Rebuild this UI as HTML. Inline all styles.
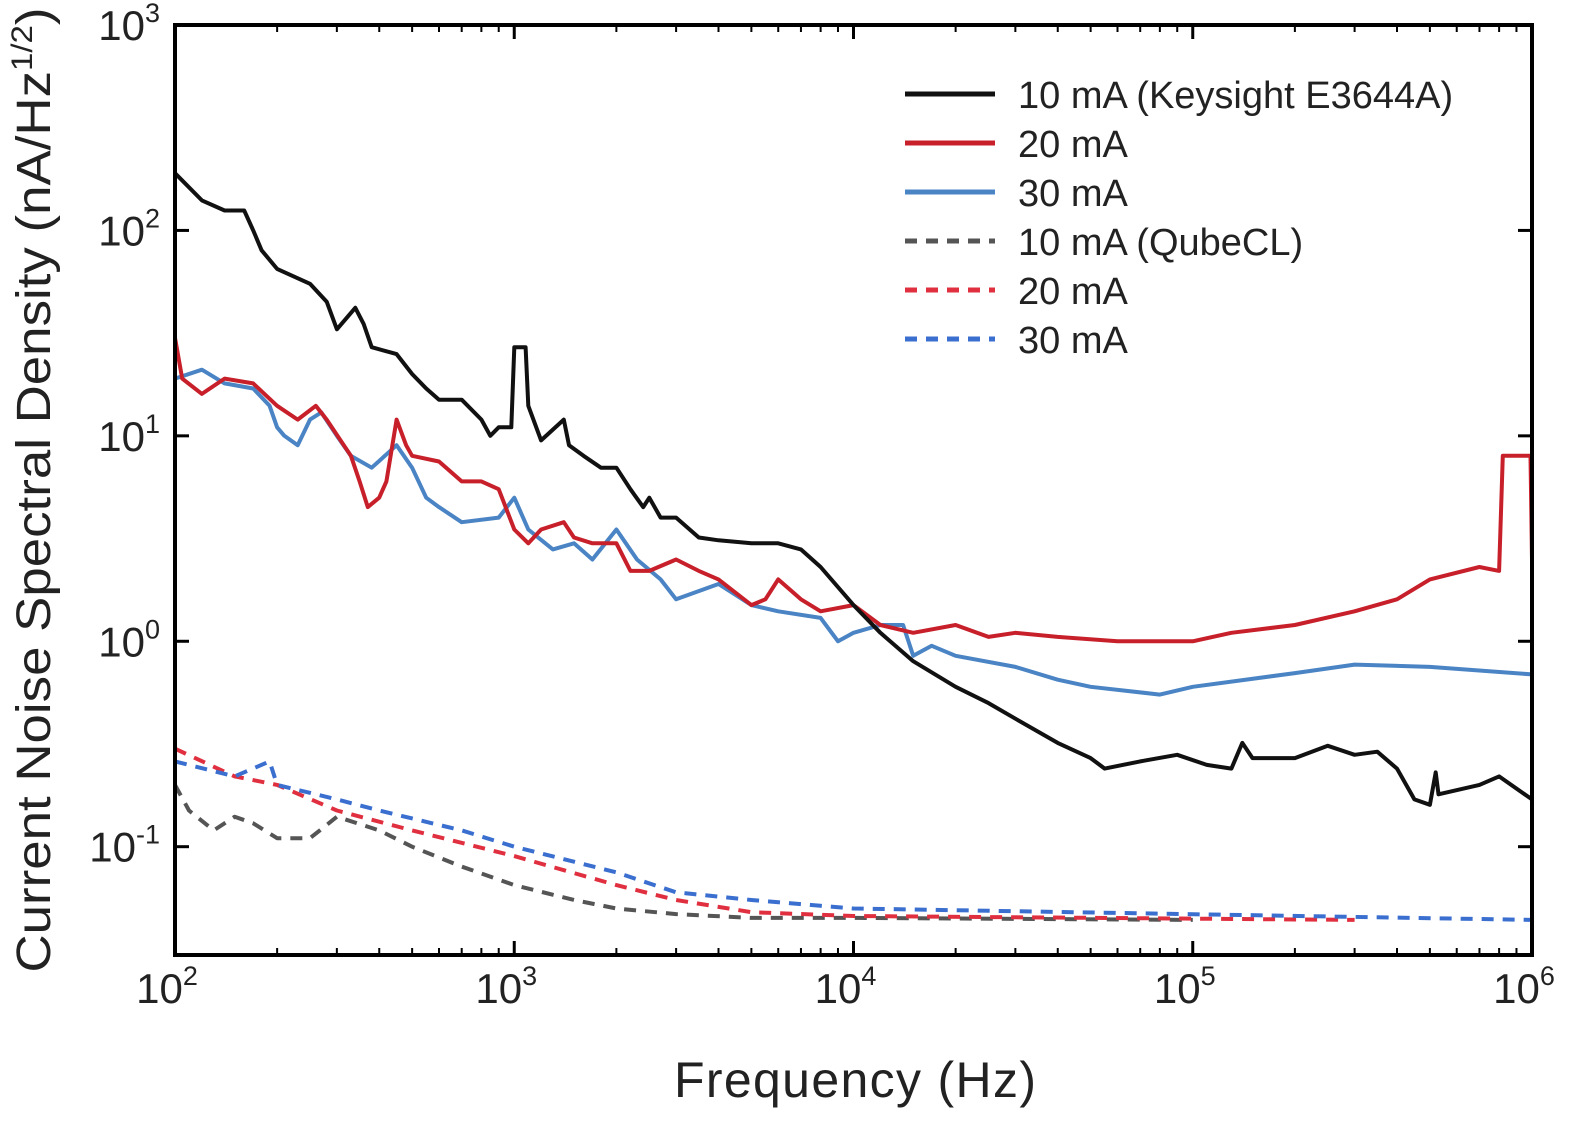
<!DOCTYPE html>
<html><head><meta charset="utf-8"><style>
html,body{margin:0;padding:0;background:#fff;}
svg text{font-family:"Liberation Sans",sans-serif;fill:#222;}
</style></head><body>
<svg id="chart" width="1575" height="1117" viewBox="0 0 1575 1117">
<g id="ticks"></g>
<g id="series"></g>
<rect x="175" y="25" width="1357" height="930" fill="none" stroke="#000" stroke-width="4"/>
<g id="labels"></g>
<text x="855" y="1097" font-size="50" text-anchor="middle" textLength="362">Frequency (Hz)</text>
<text transform="translate(50,490) rotate(-90)" font-size="48" text-anchor="middle" textLength="965" lengthAdjust="spacingAndGlyphs">Current Noise Spectral Density (nA/Hz<tspan font-size="30" dy="-18">1/2</tspan><tspan dy="18">)</tspan></text>
<g id="legend"></g>
</svg>
<script>
const blackF=[100,120,140,160,170,180,200,250,280,300,340,360,380,450,500,550,600,700,800,850,900,980,1000,1080,1100,1200,1400,1450,1600,1800,2000,2200,2400,2500,2700,3000,3500,4000,5000,6000,7000,8000,10000,12000,15000,20000,25000,30000,40000,50000,55000,70000,90000,110000,130000,140000,150000,200000,250000,300000,350000,400000,450000,500000,520000,530000,700000,800000,1000000];
const blackV=[190,140,125,125,100,80,65,55,45,33,42,35,27,25,20,17,15,15,12,10,11,11,27,27,14,9.5,12,9,8,7,7,5.5,4.5,5,4,4,3.2,3.1,3.0,3.0,2.8,2.3,1.5,1.1,0.8,0.6,0.5,0.42,0.32,0.27,0.24,0.26,0.28,0.25,0.24,0.32,0.27,0.27,0.31,0.28,0.29,0.24,0.17,0.16,0.23,0.18,0.2,0.22,0.17];
const redF=[100,105,120,140,170,200,230,260,280,330,350,370,400,420,450,480,500,600,700,800,900,1000,1100,1200,1400,1500,1700,2000,2200,2500,3000,3500,4000,5000,5500,6000,7000,8000,10000,12000,15000,20000,25000,30000,40000,60000,100000,130000,200000,300000,400000,500000,700000,800000,820000,990000,1000000];
const redV=[30,19,16,19,18,14,12,14,12,8,6,4.5,5,6,12,9,8,7.5,6,6,5.5,3.5,3,3.5,3.8,3.2,3,3.0,2.2,2.2,2.5,2.2,2.0,1.5,1.6,2.0,1.6,1.4,1.5,1.2,1.1,1.2,1.05,1.1,1.05,1.0,1.0,1.1,1.2,1.4,1.6,2.0,2.3,2.2,8,8,2.5];
const blueF=[100,120,140,170,190,200,210,230,250,270,300,330,380,450,500,550,600,700,900,1000,1100,1300,1500,1700,2000,2300,2700,3000,4000,5000,6000,8000,9000,10000,12000,14000,15000,17000,20000,30000,40000,50000,80000,100000,200000,300000,500000,1000000];
const blueV=[19,21,18,17,14,11,10,9,12,13,10,8,7,9,7,5,4.5,3.8,4,5,3.5,2.8,3,2.5,3.5,2.5,2.0,1.6,1.9,1.5,1.4,1.3,1.0,1.1,1.2,1.2,0.85,0.95,0.85,0.75,0.65,0.6,0.55,0.6,0.7,0.77,0.75,0.69];
const greyDF=[100,110,130,150,170,200,250,300,400,500,700,1000,1500,2000,3000,5000,10000,100000];
const greyDV=[0.2,0.15,0.12,0.14,0.13,0.11,0.11,0.14,0.12,0.1,0.08,0.065,0.055,0.05,0.047,0.045,0.045,0.044];
const redDF=[100,150,200,300,500,1000,2000,3000,5000,10000,300000];
const redDV=[0.3,0.22,0.2,0.15,0.12,0.09,0.065,0.055,0.048,0.046,0.044];
const blueDF=[100,150,190,200,300,400,700,1000,2000,3000,5000,10000,1000000];
const blueDV=[0.26,0.22,0.26,0.2,0.17,0.15,0.12,0.1,0.075,0.06,0.055,0.05,0.044];
const xTickExp=[2,3,4,5,6];
const yTickExp=[-1,0,1,2,3];
const legendLabels=["10 mA (Keysight E3644A)","20 mA","30 mA","10 mA (QubeCL)","20 mA","30 mA"];

const NS="http://www.w3.org/2000/svg";
const x0=175,x1=1532,y0=955,y1=25;
const yMinL=Math.log10(0.0297),yMaxL=3;
function xs(f){return x0+(Math.log10(f)-2)/4*(x1-x0);}
function ys(v){return y0-(Math.log10(v)-yMinL)/(yMaxL-yMinL)*(y0-y1);}
function mk(t,a,p){const e=document.createElementNS(NS,t);for(const k in a)e.setAttribute(k,a[k]);(p||document.getElementById('chart')).appendChild(e);return e;}

const tg=document.getElementById('ticks'),lg=document.getElementById('labels');
xTickExp.forEach(e=>{
  const x=xs(Math.pow(10,e));
  const t=mk('line',{x1:x,x2:x,y1:y0,y2:y0-14,stroke:'#000','stroke-width':3},tg);
  
  
  const t2=mk('line',{x1:x,x2:x,y1:y1,y2:y1+14,stroke:'#000','stroke-width':3},tg);
  
  
  const l=mk('text',{x:x-8,y:1003,'font-size':42,'text-anchor':'middle'},lg);
  l.innerHTML='10<tspan font-size="27" dy="-18">'+e+'</tspan>';
  
  
  if(e<6)for(let m=2;m<10;m++){const xm=xs(m*Math.pow(10,e));
    const a=mk('line',{x1:xm,x2:xm,y1:y0,y2:y0-7,stroke:'#000','stroke-width':2},tg);
    
    
    const b=mk('line',{x1:xm,x2:xm,y1:y1,y2:y1+7,stroke:'#000','stroke-width':2},tg);
    
    }
});
yTickExp.forEach(e=>{
  const y=ys(Math.pow(10,e));
  const t=mk('line',{x1:x0,x2:x0+14,y1:y,y2:y,stroke:'#000','stroke-width':3},tg);
  
  
  const t2=mk('line',{x1:x1,x2:x1-14,y1:y,y2:y,stroke:'#000','stroke-width':3},tg);
  
  
  const l=mk('text',{x:160,y:y+15,'font-size':42,'text-anchor':'end'},lg);
  l.innerHTML='10<tspan font-size="27" dy="-18">'+e+'</tspan>';
  
  
});

const sg=document.getElementById('series');
function draw(F,V,color,dash,name){
  const pts=F.map((f,i)=>xs(f).toFixed(1)+','+ys(V[i]).toFixed(1)).join(' ');
  const p=mk('polyline',{points:pts,fill:'none',stroke:color,'stroke-width':4,'stroke-linejoin':'round','stroke-dasharray':dash?'12,9':'none'},sg);
  
  
}
draw(greyDF,greyDV,'#555',true,'series-10ma-qubecl');
draw(redDF,redDV,'#e03040',true,'series-20ma-qubecl');
draw(blueDF,blueDV,'#3a6fd0',true,'series-30ma-qubecl');
draw(blueF,blueV,'#4a84c4',false,'series-30ma-keysight');
draw(redF,redV,'#c8202a',false,'series-20ma-keysight');
draw(blackF,blackV,'#111',false,'series-10ma-keysight');

const cols=['#111','#c8202a','#4a84c4','#555','#e03040','#3a6fd0'];
const lgd=document.getElementById('legend');
legendLabels.forEach((s,i)=>{
  const y=94+i*49;
  const l=mk('line',{x1:905,x2:995,y1:y,y2:y,stroke:cols[i],'stroke-width':5,'stroke-dasharray':i>2?'12,9':'none'},lgd);
  
  
  const t=mk('text',{x:1018,y:y+14,'font-size':38},lgd);
  t.textContent=s;
  
  
});
</script>
</body></html>
